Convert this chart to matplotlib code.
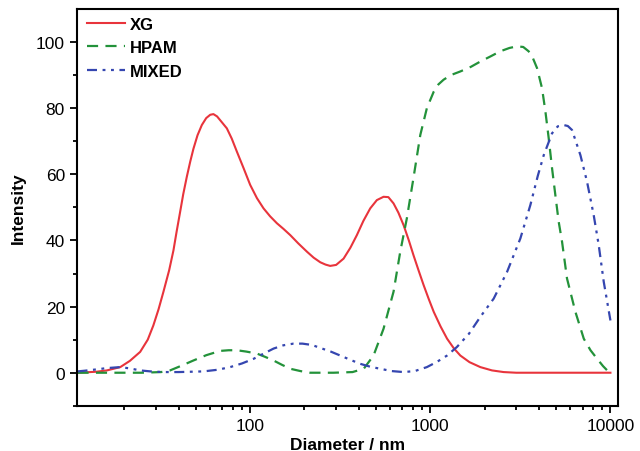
import numpy as np
import matplotlib
matplotlib.use('Agg')
import matplotlib.pyplot as plt
from matplotlib.ticker import FixedLocator, LogLocator, NullFormatter

plt.rcParams['font.family'] = ['Liberation Sans', 'DejaVu Sans']

# XG (red, solid)
xg_x = [11, 12, 14, 16, 19, 21.5, 24.5, 27, 29, 31, 33, 35.5, 37.5, 39, 40.8, 42.5, 44.5,
        46.5, 48.4, 51, 53.9, 57, 60, 62.5, 65.5, 69, 74.2, 79, 84.3, 92, 100, 109, 118.6,
        129, 140.7, 153, 167, 185, 206.6, 225, 245, 262, 278, 300, 330, 360, 391, 425,
        464, 505, 550, 585, 625, 665, 711, 760, 807, 860, 918, 980, 1045, 1140, 1239,
        1350, 1468, 1650, 1896, 2200, 2553, 3000, 5000, 10000]
xg_y = [0, 0.1, 0.3, 0.7, 1.7, 3.6, 6.3, 10, 14.3, 19.2, 24.5, 31, 37, 42.5, 48.5,
        54, 59.3, 63.9, 67.7, 71.8, 74.9, 77, 78, 78.2, 77.5, 76, 73.9, 70.8, 66.9, 61.8,
        56.8, 52.8, 49.7, 47.3, 45.2, 43.5, 41.6, 39.1, 36.6, 34.8, 33.4, 32.7, 32.3, 32.6,
        34.5, 37.8, 41.6, 45.9, 49.7, 52.2, 53.2, 53.1, 51.2, 48.4, 44.6, 40, 35.5, 31,
        26.5, 22.3, 18.4, 14, 10.3, 7.4, 5.2, 3.2, 1.7, 0.7, 0.2, 0, 0, 0]

# HPAM (green, dashed)
hp_x = [11, 17, 25, 32, 35.9, 41, 48.4, 57, 68.1, 76, 84.3, 95, 108.9, 121, 134.8, 150,
        167, 190, 215, 290, 370, 427, 484, 550, 625, 681, 741, 807, 880, 957, 1045, 1110,
        1185, 1300, 1468, 1680, 1896, 2150, 2448, 2750, 3030, 3280, 3514, 3720, 3914,
        4172, 4355, 4543, 4742, 4946, 5160, 5388, 5740, 6391, 7112, 7750, 8440, 9100,
        9795, 10000]
hp_y = [0, 0, 0, 0.2, 0.7, 2.0, 3.7, 5.3, 6.6, 6.8, 6.8, 6.4, 5.8, 4.8, 3.7, 2.4, 1.2,
        0.5, 0, 0, 0.2, 1.2, 5.2, 13.3, 24.5, 36.6, 46.7, 59, 71.9, 80, 85, 87.2, 88.6,
        90, 91.1, 92.5, 94.1, 95.6, 97.2, 98.2, 98.7, 98.5, 97.2, 95, 92.1, 86, 79, 70.9,
        61.8, 53.7, 45.7, 39.6, 28.5, 18.4, 10.3, 6.8, 4.2, 2.0, 0.2, 0]

# MIXED (blue, dash-dot-dot)
mx_x = [11, 12, 14, 16, 19, 21.5, 24.5, 28, 33, 40, 55, 66, 77.4, 90, 104.4, 118, 134.8,
        153, 174, 195, 220, 245, 280, 316, 360, 408, 465, 527, 610, 711, 820, 957, 1090,
        1239, 1406, 1640, 1896, 2248, 2668, 3162, 3593, 3950, 4264, 4742, 5100, 5506,
        5800, 6120, 6813, 7413, 8072, 8610, 9180, 10000]
mx_y = [0.4, 0.6, 1.0, 1.4, 1.7, 1.3, 0.7, 0.4, 0.2, 0.2, 0.4, 0.9, 1.7, 2.8, 4.2, 5.7,
        7.3, 8.3, 8.8, 8.8, 8.4, 7.5, 6.4, 5.2, 3.9, 2.7, 1.8, 1.2, 0.5, 0.2, 0.5, 1.7,
        3.3, 5.2, 7.8, 11.8, 16.9, 22.4, 30.5, 40.6, 50.7, 59.5, 65.8, 72.4, 74.5, 74.9,
        74.6, 73.4, 65.8, 57.8, 47.7, 38.6, 27.5, 15.8]

fig = plt.figure(figsize=(6.4, 4.52), dpi=100)
ax = fig.add_axes([0.120, 0.100, 0.846, 0.878])

ax.plot(xg_x, xg_y, color='#e8343c', lw=1.5, label='XG')
ax.plot(hp_x, hp_y, color='#23923a', lw=1.6, linestyle=(0, (5, 3.3)), label='HPAM')
ax.plot(mx_x, mx_y, color='#3546b0', lw=1.6,
        linestyle=(0, (4.5, 2.5, 1.3, 2.5, 1.3, 2.5)), label='MIXED')

ax.set_xscale('log')
ax.set_xlim(10.9, 11050)
ax.set_ylim(-10, 110)
ax.yaxis.set_major_locator(FixedLocator([0, 20, 40, 60, 80, 100]))
ax.yaxis.set_minor_locator(FixedLocator([-10, 10, 30, 50, 70, 90]))
ax.xaxis.set_major_locator(FixedLocator([100, 1000, 10000]))
ax.xaxis.set_minor_locator(LogLocator(base=10, subs=np.arange(2, 10), numticks=20))
ax.xaxis.set_minor_formatter(NullFormatter())
ax.set_xticklabels(['100', '1000', '10000'])

ax.tick_params(which='both', direction='out', top=False, right=False, labelsize=12.5,
               width=1.3)
ax.tick_params(which='major', length=5)
ax.tick_params(which='minor', length=3)
for s in ax.spines.values():
    s.set_linewidth(1.5)

ax.set_xlabel('Diameter / nm', fontsize=12.5, fontweight='bold', labelpad=3)
ax.set_ylabel('Intensity', fontsize=12.5, fontweight='bold', labelpad=7)

leg = ax.legend(loc='upper left', bbox_to_anchor=(0.0, 1.005), frameon=False,
                handlelength=2.3, handletextpad=0.3, labelspacing=0.5,
                borderaxespad=0.2, prop={'weight': 'bold', 'size': 12})

fig.savefig('out.png', dpi=100)
